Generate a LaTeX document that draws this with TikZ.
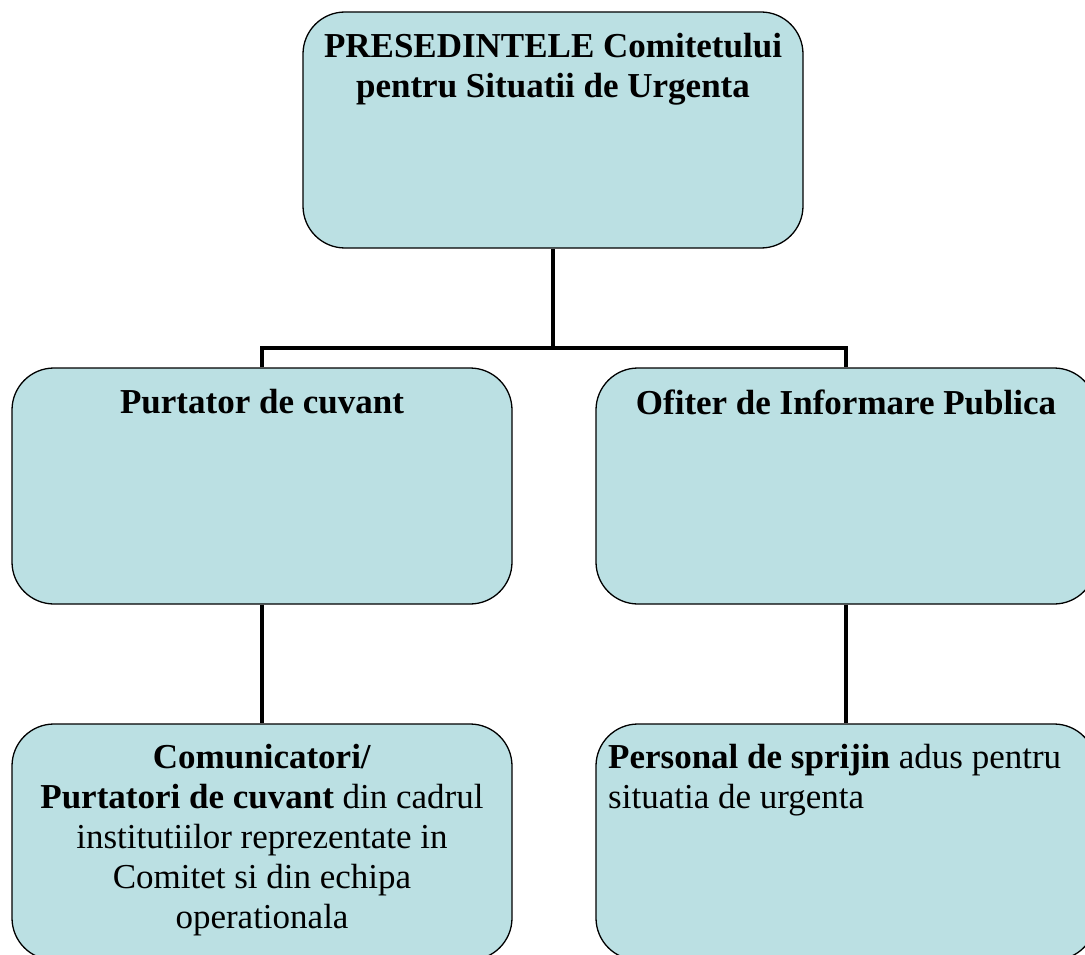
\documentclass[tikz,border=0pt]{standalone}
\usepackage{fontspec}
\setmainfont{Liberation Serif}
\usepackage{xcolor}
\usepackage{tikz}
\definecolor{boxfill}{RGB}{187,224,227}
\tikzset{
    orgbox/.style = {
        draw,
        fill           = boxfill,
        line width     = 1.3pt,
        rounded corners = 42pt,
        minimum width  = 500pt,
        minimum height = 236pt,
        inner sep      = 0pt,
    },
    boxtext/.style = {
        anchor     = north,
        align      = center,
        inner sep  = 0pt,
        font       = \fontsize{35}{40}\selectfont,
    },
    link/.style = {
        line width = 4pt,
        line join  = miter,
    },
}

\begin{document}
\begin{tikzpicture}[x=1pt, y=-1pt]
        \useasboundingbox (0,0) rectangle (1085,955);
        \clip (0,0) rectangle (1085,955);

        \node at (553, 130) (pres) [orgbox] {};
        \node at (262, 486) (purt) [orgbox] {};
        \node at (846, 486) (ofit) [orgbox] {};
        \node at (262, 842) (comu) [orgbox] {};
        \node at (846, 842) (pers) [orgbox] {};

        \node (presText) [boxtext] at ([yshift=-22pt]pres.north) {\textbf{PRESEDINTELE Comitetului}\\\textbf{pentru Situatii de Urgenta}};
        \node (purtText) [boxtext] at ([yshift=-22pt]purt.north) {\textbf{Purtator de cuvant}};
        \node (ofitText) [boxtext] at ([yshift=-22pt]ofit.north) {\textbf{Ofiter de Informare Publica}};
        \node (comuText) [boxtext] at ([yshift=-21pt]comu.north) {\textbf{Comunicatori/}\\\textbf{Purtatori de cuvant} din cadrul\\institutiilor reprezentate in\\Comitet si din echipa\\operationala};
        \node (persText) [boxtext, anchor=north west, align=left] at ([xshift=-238pt, yshift=-21pt]pers.north) {\textbf{Personal de sprijin} adus pentru\\situatia de urgenta};

        \coordinate (bar) at (553, 348);
        \draw [link] (pres.south) -- (bar);
        \draw [link] (purt.north) |- (bar) -| (ofit.north);
        \draw [link] (purt.south) -- (comu.north);
        \draw [link] (ofit.south) -- (pers.north);
    \end{tikzpicture}
\end{document}
